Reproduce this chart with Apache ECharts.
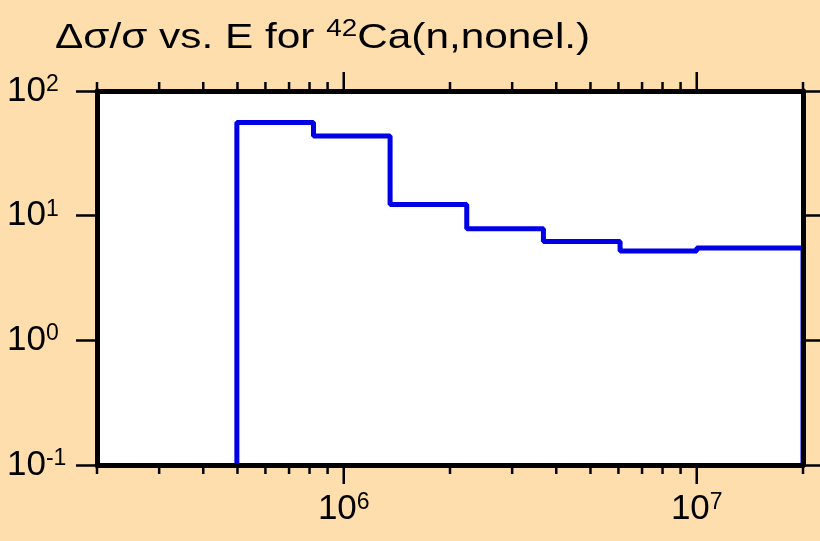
<!DOCTYPE html>
<html>
<head>
<meta charset="utf-8">
<script src="https://cdn.jsdelivr.net/npm/echarts@6/dist/echarts.min.js"></script>
<style>
  html, body { margin: 0; padding: 0; background: #ffdead; }
  #chart { width: 820px; height: 541px; }
</style>
</head>
<body>
<div id="chart"></div>
<script>
// energy group boundaries (eV) and relative uncertainty (%) per group
const binEdges = [4.98e5, 8.21e5, 1.353e6, 2.231e6, 3.679e6, 6.065e6, 1.0e7, 2.0e7]
const relErr = [56, 43.5, 12.3, 7.85, 6.2, 5.2, 5.5]
const yFloor = 0.1

// x axis tick positions
const majorTicks = [1e6, 1e7]
const minorTicks = [2e5, 3e5, 4e5, 5e5, 6e5, 7e5, 8e5, 9e5,
  2e6, 3e6, 4e6, 5e6, 6e6, 7e6, 8e6, 9e6, 2e7]

const font = 'Liberation Sans'

// histogram outline as step points
const stepData = [[binEdges[0], yFloor]]
relErr.forEach((v, i) => stepData.push([binEdges[i], v]))
stepData.push([binEdges[binEdges.length - 1], relErr[relErr.length - 1]])
stepData.push([binEdges[binEdges.length - 1], yFloor])

const tickData = majorTicks.map(v => [v, 1]).concat(minorTicks.map(v => [v, 0]))

function powLabel(v) {
  const l = Math.log10(v)
  const e = Math.round(l)
  if (Math.abs(l - e) > 1e-6) return ''
  return '{b|10}{s|' + e + '}'
}

const labelRich = {
  b: { fontSize: 35, lineHeight: 36, fontFamily: font, fontWeight: 'normal', color: '#000' },
  s: { fontSize: 23, lineHeight: 10, verticalAlign: 'top', fontFamily: font, fontWeight: 'normal', color: '#000' },
}

const chart = echarts.init(document.getElementById('chart'))
chart.setOption({
  backgroundColor: '#ffdead',
  animation: false,
  graphic: [
    {
      type: 'text',
      x: 55,
      y: 18,
      scaleX: 1.21,
      style: {
        text: '{a|Δσ/σ vs. E for }{s|42}{a|Ca(n,nonel.)}',
        fill: '#000',
        rich: {
          a: { fontSize: 35, lineHeight: 40, fontFamily: font, fill: '#000' },
          s: { fontSize: 23, lineHeight: 12, verticalAlign: 'top', fontFamily: font, fill: '#000' },
        },
      },
    },
  ],
  grid: {
    left: 97,
    right: 17,
    top: 91,
    bottom: 76,
    outerBoundsMode: 'none',
    containLabel: false,
    show: true,
    backgroundColor: '#fff',
    borderWidth: 0,
  },
  xAxis: [
    {
      type: 'log',
      min: 2e5,
      max: 2e7,
      position: 'bottom',
      z: 5,
      axisLine: { lineStyle: { color: '#000', width: 5 } },
      axisTick: { show: false },
      splitLine: { show: false },
      axisLabel: { formatter: powLabel, margin: 26, fontSize: 35, fontFamily: font, color: '#000', rich: labelRich },
    },
    {
      type: 'log',
      min: 2e5,
      max: 2e7,
      position: 'top',
      z: 5,
      axisLine: { lineStyle: { color: '#000', width: 5 } },
      axisTick: { show: false },
      splitLine: { show: false },
      axisLabel: { show: false },
    },
  ],
  yAxis: [
    {
      type: 'log',
      min: 0.1,
      max: 100,
      position: 'left',
      z: 5,
      axisLine: { lineStyle: { color: '#000', width: 5 } },
      axisTick: { length: 21, lineStyle: { color: '#000', width: 2.5 } },
      splitLine: { show: false },
      axisLabel: {
        formatter: powLabel,
        align: 'left',
        margin: 90,
        fontSize: 35,
        fontFamily: font,
        color: '#000',
        rich: labelRich,
      },
    },
    {
      type: 'log',
      min: 0.1,
      max: 100,
      position: 'right',
      z: 5,
      axisLine: { lineStyle: { color: '#000', width: 5 } },
      axisTick: { length: 20, lineStyle: { color: '#000', width: 2.5 } },
      splitLine: { show: false },
      axisLabel: { show: false },
    },
  ],
  series: [
    {
      type: 'line',
      step: 'end',
      data: stepData,
      showSymbol: false,
      clip: false,
      z: 3,
      lineStyle: { color: '#0000e6', width: 5 },
    },
    {
      type: 'custom',
      data: tickData,
      z: 6,
      renderItem(params, api) {
        const x = api.coord([api.value(0), 1])[0]
        const cs = params.coordSys
        const len = api.value(1) ? 19 : 9
        const style = { stroke: '#000', lineWidth: 2.5 }
        return {
          type: 'group',
          children: [
            { type: 'line', shape: { x1: x, y1: cs.y + cs.height, x2: x, y2: cs.y + cs.height + len }, style },
            { type: 'line', shape: { x1: x, y1: cs.y, x2: x, y2: cs.y - len }, style },
          ],
        }
      },
    },
  ],
})
</script>
</body>
</html>
